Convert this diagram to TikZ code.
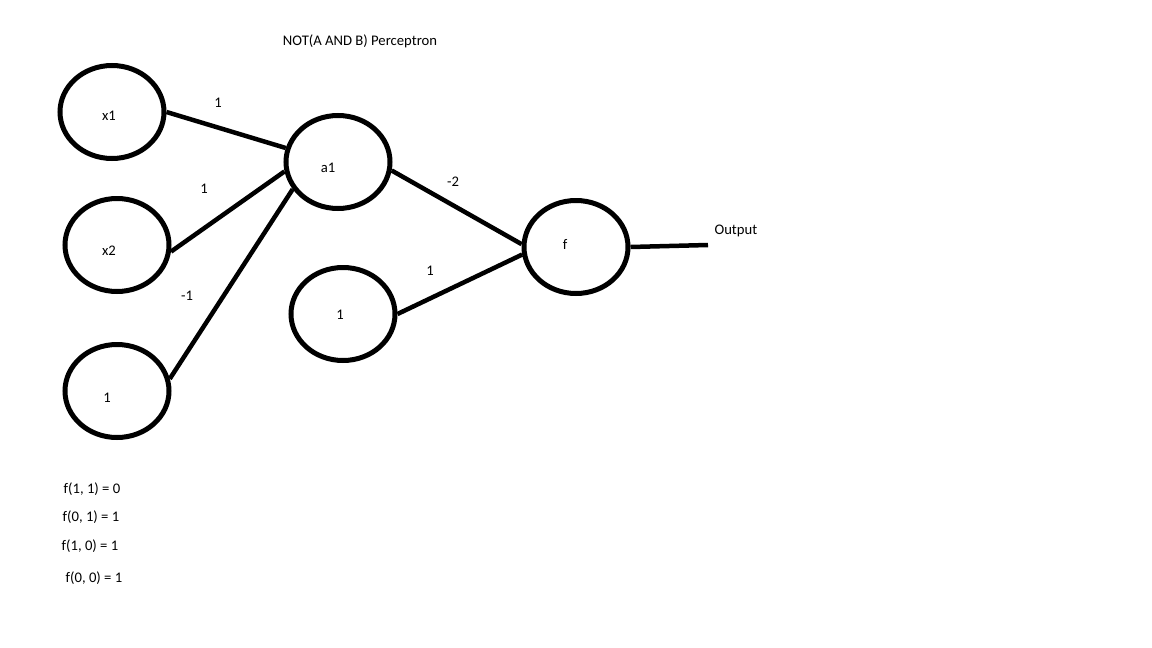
\documentclass[tikz,border=0pt]{standalone}
\usepackage{fontspec}
\setmainfont{Carlito}
\usepackage{tikz}
\usetikzlibrary{shapes.geometric}

\tikzset{
    neuron/.style={ellipse, draw, line width=5pt, minimum width=104pt, minimum height=93pt, inner sep=0pt},
    wire/.style={line width=4.5pt},
    every node/.style={font=\fontsize{14.67}{17}\selectfont}
}

\begin{document}
\begin{tikzpicture}[x=1pt,y=-1pt]
        \useasboundingbox[fill=white] (0,0) rectangle (1152,648);

        \node at (360,41) (title) {NOT(A AND B) Perceptron};

        % input layer
        \node[neuron, label={[xshift=-3pt,yshift=-4pt]center:x1}] (x_1) at (112,112) {};
        \node[neuron, label={[xshift=-8pt,yshift=-6pt]center:x2}] (x_2) at (117,245) {};
        \node[neuron, label={[xshift=-10pt,yshift=-7pt]center:1}] (b_1) at (117,391) {};

        % hidden and output
        \node[neuron, label={[xshift=-10pt,yshift=-6pt]center:a1}] (a_1) at (338,162) {};
        \node[neuron, label={[xshift=-3pt,yshift=-1pt]center:1}] (b_2) at (343,314) {};
        \node[neuron, label={[xshift=-11pt,yshift=3pt]center:f}] (f) at (576,247) {};
        \coordinate (out) at (708,245);

        \draw[wire] (x_1.east) -- (a_1.165);
        \draw[wire] (x_2.-7) -- (a_1.190);
        \draw[wire] (b_1.13) -- (a_1.211);
        \draw[wire] (a_1.-9) -- (f.177);
        \draw[wire] (b_2.east) -- (f.188);
        \draw[wire] (f.east) -- (out);

        \node at (218,103) (w_1) {1};
        \node at (204,189) (w_2) {1};
        \node at (187,296) (w_3) {-1};
        \node at (453,182) (w_4) {-2};
        \node at (430,271) (w_5) {1};
        \node[anchor=west] at (711,231) (lab_out) {Output};

        % truth table
        \node at (92,489) (t_1) {f(1, 1) = 0};
        \node at (91,517) (t_2) {f(0, 1) = 1};
        \node at (90,546) (t_3) {f(1, 0) = 1};
        \node at (94,578) (t_4) {f(0, 0) = 1};
    \end{tikzpicture}
\end{document}
